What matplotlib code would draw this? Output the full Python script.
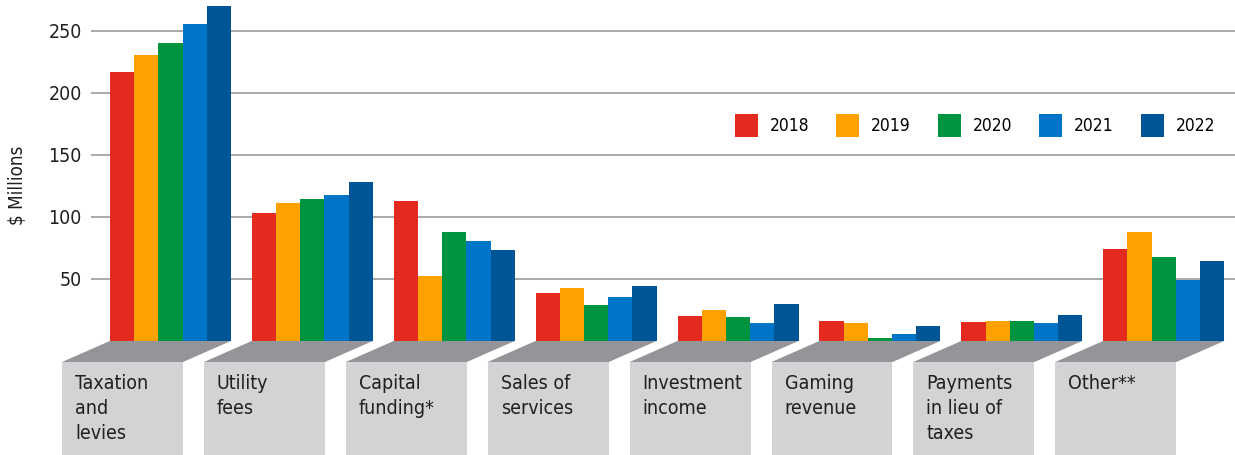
import matplotlib
matplotlib.use("Agg")
import matplotlib.pyplot as plt
from matplotlib.patches import Patch, Polygon, Rectangle

plt.rcParams["font.family"] = ["DejaVu Sans"]
plt.rcParams["font.stretch"] = "condensed"

categories = [
    "Taxation\nand\nlevies",
    "Utility\nfees",
    "Capital\nfunding*",
    "Sales of\nservices",
    "Investment\nincome",
    "Gaming\nrevenue",
    "Payments\nin lieu of\ntaxes",
    "Other**",
]
years = ["2018", "2019", "2020", "2021", "2022"]

# $ millions per category, one list per year
v2018 = [217, 103, 113, 39, 20, 16, 15, 74]
v2019 = [231, 111, 52, 43, 25, 14.5, 16, 88]
v2020 = [240, 114.5, 88, 29, 19.5, 2.5, 16, 68]
v2021 = [256, 118, 81, 35.5, 14.5, 5.5, 14.5, 49]
v2022 = [270, 128, 73, 44, 30, 12, 21, 64.5]
series = [v2018, v2019, v2020, v2021, v2022]

colors = ["#e4291e", "#ffa100", "#009440", "#0075c8", "#005596"]
yticks = [50, 100, 150, 200, 250]

W, H, DPI = 1235, 455, 100
fig = plt.figure(figsize=(W / DPI, H / DPI), dpi=DPI)
ax = fig.add_axes([91 / W, 0, 1 - 91 / W, 1])

bar_w = 0.1705
half = 2.5 * bar_w
skew = 0.338        # horizontal offset of the front face of each plinth
step = -17          # depth of the dark top face, in data units
box_bottom = -120

for i in range(len(categories)):
    # plinth: dark top face and light front box carrying the label
    top = Polygon([(i - half, 0), (i + half, 0),
                   (i + half - skew, step), (i - half - skew, step)],
                  closed=True, facecolor="#939598", edgecolor="none",
                  clip_on=False, zorder=1)
    ax.add_patch(top)
    front = Rectangle((i - half - skew, box_bottom), 2 * half, step - box_bottom,
                      facecolor="#d1d3d4", edgecolor="none", clip_on=False, zorder=1)
    ax.add_patch(front)
    ax.text(i - half - skew + 0.092, step - 9.5, categories[i], ha="left", va="top",
            fontsize=14, color="#231f20", linespacing=1.42, clip_on=False, zorder=2)

for k, (vals, c) in enumerate(zip(series, colors)):
    xs = [i - half + (k + 0.5) * bar_w for i in range(len(categories))]
    ax.bar(xs, vals, width=bar_w, color=c, linewidth=0, zorder=3, label=years[k])

for t in yticks:
    ax.axhline(t, color="#a7a9ac", linewidth=1.4, zorder=0)

ax.set_xlim(-0.560, 7.502)
ax.set_ylim(-92, 275)
ax.set_xticks([])
ax.set_yticks(yticks)
ax.tick_params(axis="y", length=0, pad=6.5, labelsize=14, labelcolor="#231f20")
for s in ax.spines.values():
    s.set_visible(False)

fig.text(17 / W, 1 - 185 / H, "$ Millions", rotation=90, ha="center", va="center",
         fontsize=13.5, color="#231f20")

handles = [Patch(facecolor=c, edgecolor="none") for c in colors]
ax.legend(handles, years, loc="center left", bbox_to_anchor=(0.563, 0.725),
          ncol=5, frameon=False, fontsize=12.5, handlelength=1.32, handleheight=1.66,
          handletextpad=0.69, columnspacing=1.55, borderpad=0, borderaxespad=0)

fig.savefig("out.png", dpi=DPI)
